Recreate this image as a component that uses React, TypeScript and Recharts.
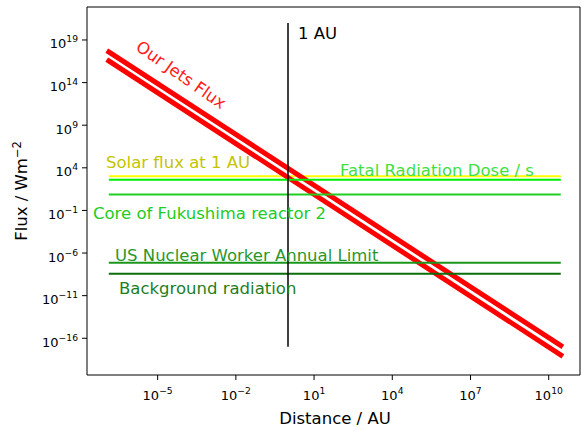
import { Line, LineChart, XAxis, YAxis } from "recharts";

// distance (AU) where every flux line starts and stops
const distanceSpan = [1.34e-7, 2.9e10];

// jets flux, upper and lower estimate (W/m^2) at the two ends
const jetsFluxHigh = [4.0e17, 1.4e-17];
const jetsFluxLow = [3.5e16, 1.1e-18];

// reference levels
const levelNames = [
  "Solar flux at 1 AU",
  "Fatal Radiation Dose / s",
  "Core of Fukushima reactor 2",
  "US Nuclear Worker Annual Limit",
  "Background radiation",
];
const levelFlux = [1000, 390, 7.4, 7.2e-8, 3.7e-9];
const levelColors = ["#ffff00", "#00ee00", "#22cc22", "#1a961a", "#0a6e0a"];

// the 1 AU marker
const auDistance = [1, 1];
const auFlux = [1e-17, 1e21];

const xTicks = [1e-5, 1e-2, 1e1, 1e4, 1e7, 1e10];
const yTicks = [1e-16, 1e-11, 1e-6, 1e-1, 1e4, 1e9, 1e14, 1e19];

const font = "DejaVu Sans";

const rows = (xs: number[], ys: number[]) => xs.map((x, i) => ({ x, y: ys[i] }));
const sup = (n: number) => (n < 0 ? "\u2212" + Math.abs(n) : String(n));

function XTick({ x, y, payload }: any) {
  const e = Math.round(Math.log10(payload.value));
  return (
    <text x={x} y={y + 20} textAnchor="middle" fontSize={13} fill="#000" fontFamily={font}>
      10
      <tspan dy={-6} fontSize={9.2}>
        {sup(e)}
      </tspan>
    </text>
  );
}

function YTick({ x, y, payload }: any) {
  const e = Math.round(Math.log10(payload.value));
  return (
    <text x={x} y={y + 8.5} textAnchor="end" fontSize={13} fill="#000" fontFamily={font}>
      10
      <tspan dy={-6} fontSize={9.2}>
        {sup(e)}
      </tspan>
    </text>
  );
}

const xDomain = [10 ** -7.71, 10 ** 11.2];
const yDomain = [10 ** -20.31, 10 ** 22.87];
const spine = { stroke: "#000", strokeWidth: 1 };

export default function App() {
  return (
    <div style={{ position: "relative", width: 581, height: 427, overflow: "hidden", background: "#fff" }}>
      <style>{"body{margin:0}"}</style>
      <LineChart width={581} height={427} margin={{ top: 6, right: 0, bottom: 0, left: 7 }}>
        <XAxis
          type="number"
          dataKey="x"
          scale="log"
          domain={xDomain}
          allowDataOverflow
          ticks={xTicks}
          interval={0}
          tick={<XTick />}
          tickSize={5}
          tickMargin={0}
          tickLine={spine}
          axisLine={spine}
          height={52}
        />
        <XAxis
          xAxisId="top"
          orientation="top"
          type="number"
          dataKey="x"
          scale="log"
          domain={xDomain}
          allowDataOverflow
          ticks={xTicks}
          tick={false}
          tickLine={false}
          axisLine={spine}
          height={1}
        />
        <YAxis
          type="number"
          dataKey="y"
          scale="log"
          domain={yDomain}
          allowDataOverflow
          ticks={yTicks}
          interval={0}
          tick={<YTick />}
          tickSize={5}
          tickMargin={4}
          tickLine={spine}
          axisLine={spine}
          width={80}
        />
        <YAxis
          yAxisId="right"
          orientation="right"
          type="number"
          dataKey="y"
          scale="log"
          domain={yDomain}
          allowDataOverflow
          ticks={yTicks}
          tick={false}
          tickLine={false}
          axisLine={spine}
          width={1}
        />
        <Line
          data={rows(distanceSpan, [levelFlux[0], levelFlux[0]])}
          dataKey="y"
          stroke={levelColors[0]}
          strokeWidth={2}
          dot={false}
          isAnimationActive={false}
        />
        <Line
          data={rows(distanceSpan, jetsFluxHigh)}
          dataKey="y"
          stroke="#ff0000"
          strokeWidth={5}
          strokeLinecap="square"
          dot={false}
          isAnimationActive={false}
        />
        <Line
          data={rows(distanceSpan, jetsFluxLow)}
          dataKey="y"
          stroke="#ff0000"
          strokeWidth={5}
          strokeLinecap="square"
          dot={false}
          isAnimationActive={false}
        />
        {levelFlux.slice(1).map((f, i) => (
          <Line
            key={levelNames[i + 1]}
            data={rows(distanceSpan, [f, f])}
            dataKey="y"
            stroke={levelColors[i + 1]}
            strokeWidth={2}
            dot={false}
            isAnimationActive={false}
          />
        ))}
        <Line
          data={rows(auDistance, auFlux)}
          dataKey="y"
          stroke="#000"
          strokeWidth={1.5}
          dot={false}
          isAnimationActive={false}
        />
      </LineChart>
      <svg
        width={581}
        height={427}
        style={{ position: "absolute", left: 0, top: 0, pointerEvents: "none" }}
        fontFamily={font}
        fontSize={16.5}
      >
        <text x={181} y={75} fill="#ff1a1a" textAnchor="middle" dominantBaseline="central" transform="rotate(35 181 75)">
          Our Jets Flux
        </text>
        <text x={298} y={39} fill="#000">1 AU</text>
        <text x={106} y={168} fill="#c4c400">{levelNames[0]}</text>
        <text x={340} y={175.5} fill="#3fe03f">{levelNames[1]}</text>
        <text x={93} y={218.5} fill="#22cc22">{levelNames[2]}</text>
        <text x={115} y={261} fill="#2a962a">{levelNames[3]}</text>
        <text x={119} y={294} fill="#1e7e1e">{levelNames[4]}</text>
        <text x={335} y={424} fill="#000" textAnchor="middle">Distance / AU</text>
        <text x={27} y={191} fill="#000" textAnchor="middle" transform="rotate(-90 27 191)">
          Flux / Wm
          <tspan dy={-6} fontSize={11.5}>{"\u22122"}</tspan>
        </text>
      </svg>
    </div>
  );
}
